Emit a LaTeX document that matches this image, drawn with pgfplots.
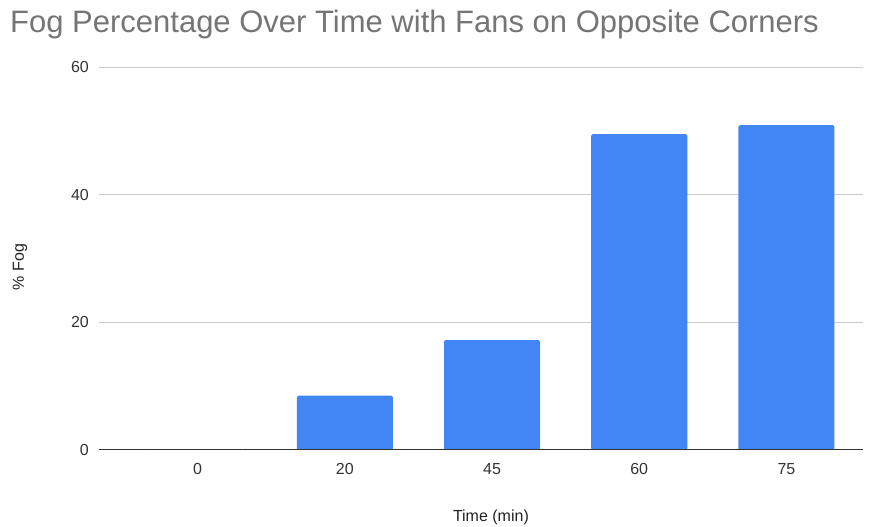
\documentclass[border=0pt]{standalone}
\usepackage{fontspec}
\setmainfont{Liberation Sans}
\usepackage{pgfplots}
\pgfplotsset{compat=1.18}
\definecolor{barblue}{HTML}{4285F4}
\definecolor{gridgray}{HTML}{CCCCCC}
\definecolor{titlegray}{HTML}{757575}
\definecolor{ticktext}{HTML}{333333}
\definecolor{axisdark}{HTML}{333333}
\definecolor{labeltext}{HTML}{222222}
\begin{document}
\begin{tikzpicture}
\path[use as bounding box] (-99pt,-77pt) rectangle (777pt,450pt);
\begin{axis}[
  at={(0pt,0pt)}, anchor=south west,
  scale only axis, width=764pt, height=383pt,
  xmin=-0.67, xmax=4.52, ymin=0, ymax=60,
  ybar, bar width=96pt,
  xtick={0,1,2,3,4}, xticklabels={0,20,45,60,75},
  ytick={0,20,40,60},
  ymajorgrids, grid style={gridgray, line width=1pt},
  axis line style={draw=none},
  major tick length=0pt,
  /pgf/number format/assume math mode=true,
  tick label style={font=\fontsize{16}{19}\selectfont, text=ticktext, inner sep=0pt},
  yticklabel style={anchor=east, xshift=-10pt},
  xticklabel style={anchor=north, yshift=-13pt},
  xlabel={Time (min)},
  ylabel={\% Fog},
  label style={font=\fontsize{16}{19}\selectfont, text=labeltext, inner sep=0pt},
  xlabel style={at={(axis description cs:0.513,-0.1854)}, anchor=base},
  ylabel style={at={(axis description cs:-0.1034,0.478)}, anchor=center, rotate=0},
]
\addplot[fill=barblue, draw=none, rounded corners=1.5pt] coordinates {(0,0) (1,8.5) (2,17.2) (3,49.5) (4,50.9)};
\draw[axisdark, line width=1.4pt] (rel axis cs:0,0) -- (rel axis cs:1,0);
\end{axis}
\node[anchor=base west, inner sep=0pt, font=\fontsize{31}{36}\selectfont, text=titlegray] at (-89pt,417pt) {Fog Percentage Over Time with Fans on Opposite Corners};
\end{tikzpicture}
\end{document}
